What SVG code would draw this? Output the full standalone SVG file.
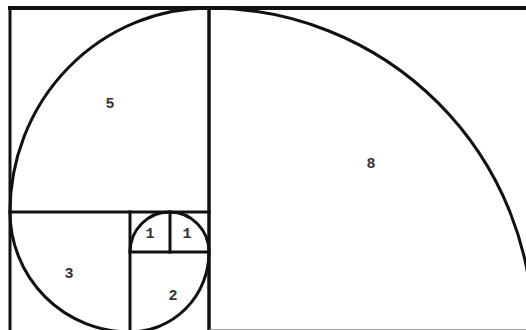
<svg xmlns="http://www.w3.org/2000/svg" width="526" height="330" viewBox="0 0 526 330">
<style>
.ln{fill:none;stroke:#111;stroke-width:3;stroke-linecap:square}
.arc{fill:none;stroke:#111;stroke-width:3}
.lb{font-family:"Liberation Mono","DejaVu Sans Mono",monospace;font-size:15px;font-weight:bold;fill:#333;text-anchor:middle}
</style>
<rect width="526" height="330" fill="#fff"/>
<g id="square-8">
<line class="ln" x1="209" y1="8" x2="526" y2="8" style="stroke-width:4"/>
<line class="ln" x1="209" y1="8" x2="209" y2="332" style="stroke-width:3.5"/>
<line x1="209" y1="330" x2="526" y2="330" stroke="#888" stroke-width="1.5"/>
<text class="lb" x="371" y="168">8</text>
</g>
<g id="square-5">
<line class="ln" x1="10" y1="8" x2="209" y2="8" style="stroke-width:4"/>
<line class="ln" x1="10" y1="8" x2="10" y2="332"/>
<line class="ln" x1="10" y1="212" x2="209" y2="212"/>
<text class="lb" x="110" y="108">5</text>
</g>
<g id="square-3">
<line class="ln" x1="130" y1="212" x2="130" y2="332"/>
<text class="lb" x="69" y="278">3</text>
</g>
<g id="square-2">
<line class="ln" x1="130" y1="252" x2="209" y2="252"/>
<text class="lb" x="173" y="300">2</text>
</g>
<g id="square-1a">
<text class="lb" x="150" y="238">1</text>
</g>
<g id="square-1b">
<line class="ln" x1="170" y1="212" x2="170" y2="252"/>
<text class="lb" x="187" y="238">1</text>
</g>
<g id="spiral">
<path class="arc" d="M209 8 A324 324 0 0 1 533 332"/>
<path class="arc" d="M209 8 A199 204 0 0 0 10 212"/>
<path class="arc" d="M10 212 A120 120 0 0 0 130 332"/>
<path class="arc" d="M130 332 A79 80 0 0 0 209 252"/>
<path class="arc" d="M209 252 A39.5 40 0 0 0 130 252"/>
</g>
</svg>
